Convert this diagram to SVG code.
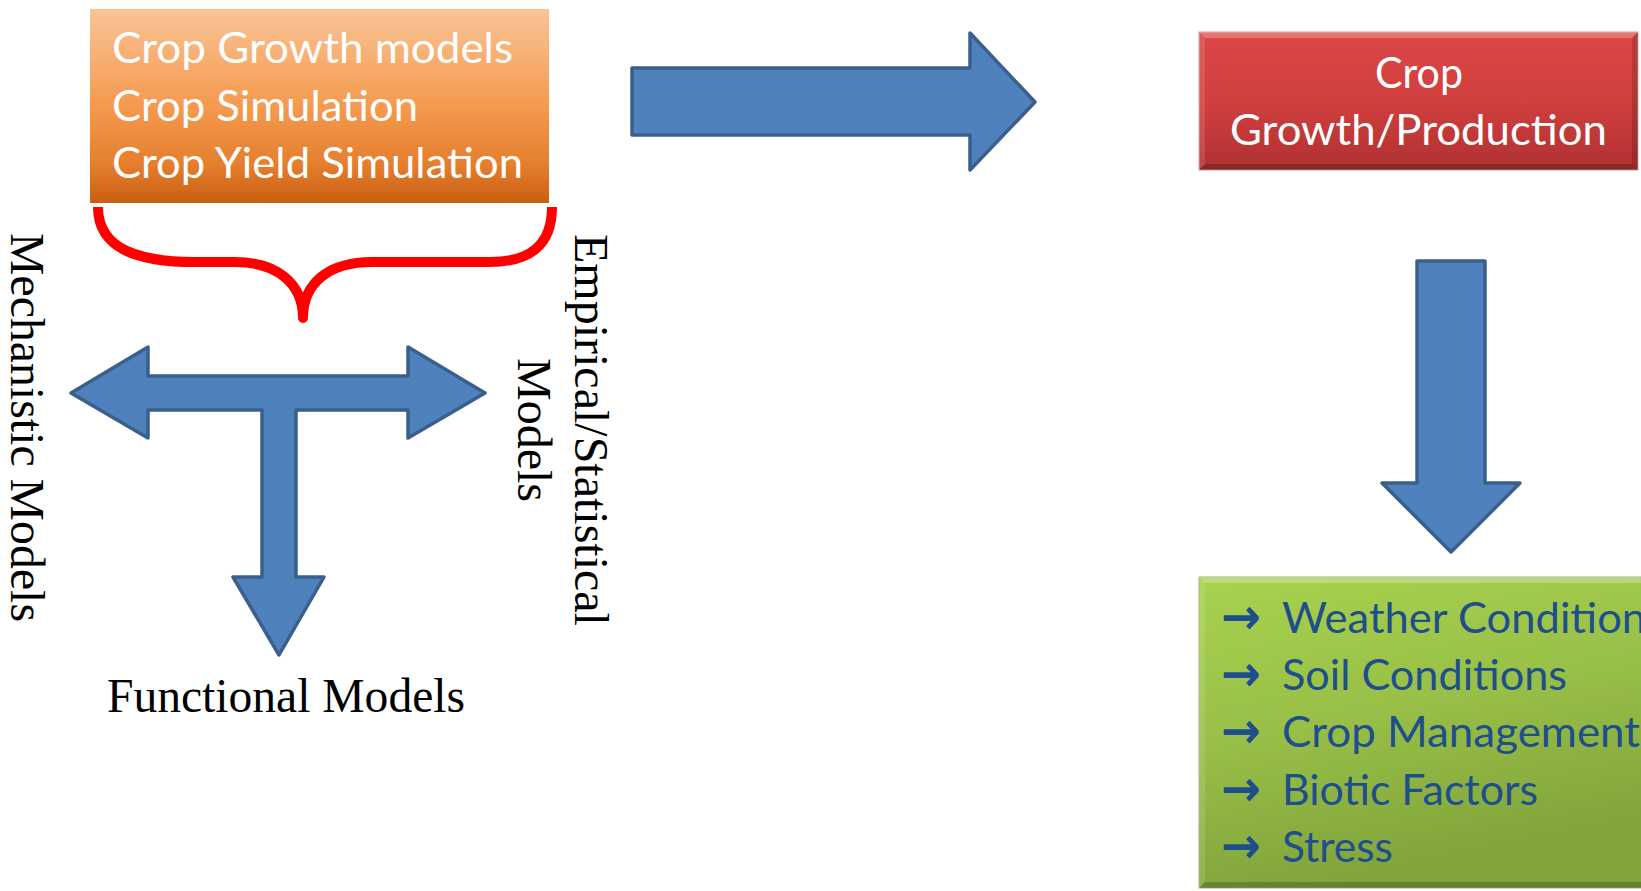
<svg xmlns="http://www.w3.org/2000/svg" width="1641" height="891" viewBox="0 0 1641 891">
<defs>
<linearGradient id="gOrange" x1="0" y1="0" x2="0" y2="1">
<stop offset="0" stop-color="#F9C496"/>
<stop offset="0.5" stop-color="#F59A4F"/>
<stop offset="0.8" stop-color="#E47F2E"/>
<stop offset="1" stop-color="#CB5E10"/>
</linearGradient>
<linearGradient id="gRed" x1="0" y1="0" x2="0" y2="1">
<stop offset="0" stop-color="#DC4646"/>
<stop offset="0.5" stop-color="#D13F3F"/>
<stop offset="1" stop-color="#B03131"/>
</linearGradient>
<linearGradient id="gGreen" x1="0" y1="0" x2="0.3" y2="1">
<stop offset="0" stop-color="#A9D24E"/>
<stop offset="0.5" stop-color="#98BF47"/>
<stop offset="1" stop-color="#80A33B"/>
</linearGradient>
<style>
.blk{fill:#4F81BD;stroke:#3A5F8C;stroke-width:3.5;stroke-linejoin:round}
.cal{font-family:Lato,"Open Sans","Noto Sans",sans-serif;font-size:42px}
.wht{fill:#FFFFFF}
.blu{fill:#1F4E8C}
.arr{font-family:"DejaVu Sans",sans-serif;font-size:50px;font-weight:bold;fill:#1F4E8C}
.tnr{font-family:"Liberation Serif","Times New Roman",serif;font-size:48px;fill:#000000}
.hl{fill:#FFFFFF}
.sh{fill:#000000}
</style>
</defs>
<rect width="1641" height="891" fill="#FFFFFF"/>

<g id="node-models">
<rect x="90" y="9" width="459" height="194" fill="url(#gOrange)"/>
<text class="cal wht" x="112" y="63" textLength="401" lengthAdjust="spacingAndGlyphs">Crop Growth models</text>
<text class="cal wht" x="112" y="121" textLength="306" lengthAdjust="spacingAndGlyphs">Crop Simulation</text>
<text class="cal wht" x="112" y="178" textLength="411" lengthAdjust="spacingAndGlyphs">Crop Yield Simulation</text>
</g>

<g id="node-production">
<rect x="1199" y="32" width="439" height="138" fill="url(#gRed)" stroke="#C9A5A5" stroke-width="1"/>
<polygon class="hl" opacity="0.25" points="1199,32 1638,32 1632,38 1205,38"/>
<polygon class="hl" opacity="0.12" points="1199,32 1205,38 1205,164 1199,170"/>
<polygon class="sh" opacity="0.2" points="1199,170 1205,164 1632,164 1638,170"/>
<polygon class="sh" opacity="0.15" points="1638,32 1638,170 1632,164 1632,38"/>
<text class="cal wht" x="1419" y="88" text-anchor="middle" textLength="88" lengthAdjust="spacingAndGlyphs">Crop</text>
<text class="cal wht" x="1418.5" y="145" text-anchor="middle" textLength="377" lengthAdjust="spacingAndGlyphs">Growth/Production</text>
</g>

<g id="node-factors">
<rect x="1199" y="577" width="470" height="311" fill="url(#gGreen)" stroke="#9DAE8A" stroke-width="1"/>
<polygon class="hl" opacity="0.25" points="1199,577 1669,577 1663,583 1205,583"/>
<polygon class="hl" opacity="0.12" points="1199,577 1205,583 1205,882 1199,888"/>
<polygon class="sh" opacity="0.2" points="1199,888 1205,882 1663,882 1669,888"/>
<text class="arr" x="1221" y="634" textLength="40" lengthAdjust="spacingAndGlyphs">→</text>
<text class="cal blu" x="1282" y="633" textLength="383" lengthAdjust="spacingAndGlyphs">Weather Conditions</text>
<text class="arr" x="1221" y="691" textLength="40" lengthAdjust="spacingAndGlyphs">→</text>
<text class="cal blu" x="1282" y="690" textLength="285" lengthAdjust="spacingAndGlyphs">Soil Conditions</text>
<text class="arr" x="1221" y="748" textLength="40" lengthAdjust="spacingAndGlyphs">→</text>
<text class="cal blu" x="1282" y="747" textLength="358" lengthAdjust="spacingAndGlyphs">Crop Management</text>
<text class="arr" x="1221" y="806" textLength="40" lengthAdjust="spacingAndGlyphs">→</text>
<text class="cal blu" x="1282" y="805" textLength="256" lengthAdjust="spacingAndGlyphs">Biotic Factors</text>
<text class="arr" x="1221" y="863" textLength="40" lengthAdjust="spacingAndGlyphs">→</text>
<text class="cal blu" x="1282" y="862" textLength="111" lengthAdjust="spacingAndGlyphs">Stress</text>
</g>

<g id="node-mechanistic">
<text class="tnr" transform="translate(11,233) rotate(90)" x="0" y="0" textLength="389" lengthAdjust="spacingAndGlyphs">Mechanistic Models</text>
</g>

<g id="node-empirical">
<text class="tnr" transform="translate(575,430) rotate(90)" text-anchor="middle"><tspan x="0" y="0">Empirical/Statistical</tspan><tspan x="0" y="57">Models</tspan></text>
</g>

<g id="node-functional">
<text class="tnr" x="107" y="712" textLength="358" lengthAdjust="spacingAndGlyphs">Functional Models</text>
</g>

<g id="connectors">
<path d="M 98,207 C 98,250 140,262 195,262 L 235,262 C 275,262 303,282 303,318 C 303,282 330,262 372,262 L 490,262 C 530,262 552,245 552,207" fill="none" stroke="#FF0000" stroke-width="10" stroke-linejoin="round"/>
<polygon class="blk" points="71,393 148,347 148,376 408,376 408,347 485,393 408,438 408,410 296,410 296,577 324,577 279,655 233,577 262,577 262,410 148,410 148,438"/>
<polygon class="blk" points="632,68 970,68 970,33 1035,102 970,170 970,135 632,135"/>
<polygon class="blk" points="1417,261 1485,261 1485,483 1520,483 1451,552 1382,483 1417,483"/>
</g>
</svg>
